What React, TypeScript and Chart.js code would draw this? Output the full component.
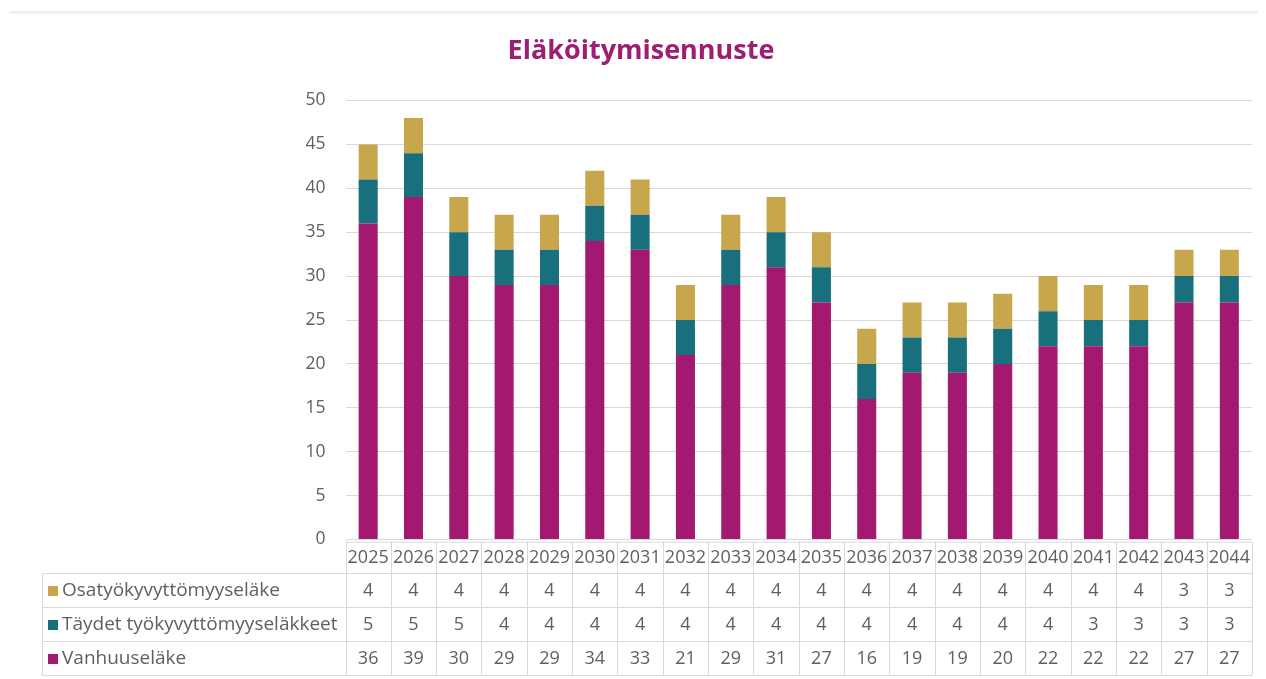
import React, { useEffect, useRef } from "react";
import { Chart, registerables } from "chart.js";

Chart.register(...registerables);

const title = "Eläköitymisennuste";
const years = ["2025","2026","2027","2028","2029","2030","2031","2032","2033","2034","2035","2036","2037","2038","2039","2040","2041","2042","2043","2044"];
const osatyokyvyttomyys = [4,4,4,4,4,4,4,4,4,4,4,4,4,4,4,4,4,4,3,3];
const taydetTyokyvyttomyys = [5,5,5,4,4,4,4,4,4,4,4,4,4,4,4,4,3,3,3,3];
const vanhuuselake = [36,39,30,29,29,34,33,21,29,31,27,16,19,19,20,22,22,22,27,27];
const seriesNames = ["Osatyökyvyttömyyseläke", "Täydet työkyvyttömyyseläkkeet", "Vanhuuseläke"];
const seriesColors = ["#C8A64B", "#17707B", "#A3196F"];

const FONT = "'Open Sans', 'DejaVu Sans', sans-serif";
const TEXT = "#606060";
const GRID = "#d9d9d9";

const tablePlugin = {
  id: "dataTable",
  afterDraw(chart: any) {
    const { ctx, chartArea } = chart;
    const left = chartArea.left;
    const right = chartArea.right;
    const n = years.length;
    const colW = (right - left) / n;
    const rowTops = [533.7, 565, 599, 633, 667];
    const labelLeft = 34;
    ctx.save();
    // faint top rule
    ctx.fillStyle = "#f1f1f1";
    ctx.fillRect(1, 3, chart.width - 1, 3);
    // title
    ctx.fillStyle = "#9E1F72";
    ctx.font = `bold 27px ${FONT}`;
    ctx.textAlign = "center";
    ctx.textBaseline = "middle";
    ctx.fillText(title, 633, 43);

    ctx.strokeStyle = GRID;
    ctx.lineWidth = 1;
    ctx.beginPath();
    ctx.moveTo(left, rowTops[0] + 0.5);
    ctx.lineTo(right, rowTops[0] + 0.5);
    for (let r = 1; r < rowTops.length; r++) {
      ctx.moveTo(labelLeft, Math.round(rowTops[r]) + 0.5);
      ctx.lineTo(right, Math.round(rowTops[r]) + 0.5);
    }
    for (let i = 0; i <= n; i++) {
      const x = Math.round(left + i * colW) + 0.5;
      ctx.moveTo(x, rowTops[0]);
      ctx.lineTo(x, rowTops[4]);
    }
    ctx.moveTo(labelLeft + 0.5, rowTops[1]);
    ctx.lineTo(labelLeft + 0.5, rowTops[4]);
    ctx.stroke();

    ctx.fillStyle = TEXT;
    ctx.font = `18px ${FONT}`;
    ctx.textAlign = "center";
    ctx.textBaseline = "middle";
    for (let i = 0; i < n; i++) {
      const cx = left + (i + 0.5) * colW;
      ctx.fillText(years[i], cx, (rowTops[0] + rowTops[1]) / 2 + 1);
    }
    const rows = [osatyokyvyttomyys, taydetTyokyvyttomyys, vanhuuselake];
    for (let r = 0; r < 3; r++) {
      const cy = (rowTops[r + 1] + rowTops[r + 2]) / 2 + 1;
      ctx.fillStyle = seriesColors[r];
      ctx.fillRect(labelLeft + 6, cy - 5, 10, 10);
      ctx.fillStyle = TEXT;
      ctx.textAlign = "left";
      ctx.font = `19px ${FONT}`;
      ctx.fillText(seriesNames[r], labelLeft + 20, cy);
      ctx.textAlign = "center";
      ctx.font = `18px ${FONT}`;
      for (let i = 0; i < n; i++) {
        const cx = left + (i + 0.5) * colW;
        ctx.fillText(String(rows[r][i]), cx, cy);
      }
    }
    ctx.restore();
  },
};

export default function App() {
  const ref = useRef<HTMLCanvasElement | null>(null);
  useEffect(() => {
    if (!ref.current) return;
    const chart = new Chart(ref.current, {
      type: "bar",
      data: {
        labels: years,
        datasets: [
          { label: seriesNames[2], data: vanhuuselake, backgroundColor: seriesColors[2], barPercentage: 0.42, categoryPercentage: 1 },
          { label: seriesNames[1], data: taydetTyokyvyttomyys, backgroundColor: seriesColors[1], barPercentage: 0.42, categoryPercentage: 1 },
          { label: seriesNames[0], data: osatyokyvyttomyys, backgroundColor: seriesColors[0], barPercentage: 0.42, categoryPercentage: 1 },
        ],
      },
      options: {
        responsive: false,
        animation: false,
        layout: { padding: { top: 92.5, bottom: 139.5, left: 0, right: 6 } },
        plugins: { legend: { display: false }, title: { display: false }, tooltip: { enabled: false } },
        scales: {
          x: { stacked: true, display: false },
          y: {
            stacked: true,
            min: 0,
            max: 50,
            border: { display: false },
            grid: { color: GRID, drawTicks: false },
            ticks: { stepSize: 5, color: TEXT, font: { family: FONT, size: 17.5 }, padding: 20 },
            afterFit: (scale: any) => { scale.width = 337.5; },
          },
        },
      },
      plugins: [tablePlugin],
    });
    return () => chart.destroy();
  }, []);
  return <canvas ref={ref} width={1250} height={671} style={{ display: "block" }} />;
}
